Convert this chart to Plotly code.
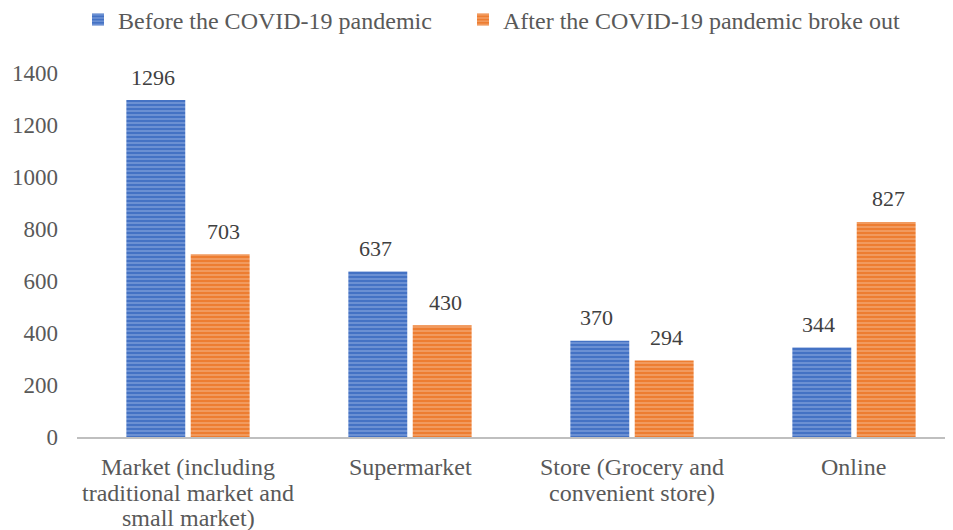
import plotly.graph_objects as go

categories = ["Market (including<br>traditional market and<br>small market)", "Supermarket",
              "Store (Grocery and<br>convenient store)", "Online"]
before_vals = [1296, 637, 370, 344]
after_vals = [703, 430, 294, 827]
series_names = ["Before the COVID-19 pandemic", "After the COVID-19 pandemic broke out"]
y_ticks = [0, 200, 400, 600, 800, 1000, 1200, 1400]

FONT = "Liberation Serif, Times New Roman, serif"
BLUE = "#4472C4"
ORANGE = "#ED7D31"

# page body has an 8px default margin; size the figure to fill the rest of the window
W, H = 945, 522

fig = go.Figure()
fig.add_trace(go.Bar(
    x=categories, y=before_vals, name=series_names[0], legend="legend",
    marker=dict(color=BLUE, line=dict(width=0),
                pattern=dict(shape="-", bgcolor=BLUE, fgcolor="#B4C8EE", size=4, solidity=0.35,
                             fillmode="overlay")),
))
fig.add_trace(go.Bar(
    x=categories, y=after_vals, name=series_names[1], legend="legend2",
    marker=dict(color=ORANGE, line=dict(width=0),
                pattern=dict(shape="-", bgcolor=ORANGE, fgcolor="#FAD0B2", size=4, solidity=0.35,
                             fillmode="overlay")),
))

annotations = []
for cat, v in zip(categories, before_vals):
    annotations.append(dict(x=cat, y=v, xref="x", yref="y", text=str(v), showarrow=False,
                            xshift=-35, yshift=23, font=dict(family=FONT, size=22, color="#404040")))
for cat, v in zip(categories, after_vals):
    annotations.append(dict(x=cat, y=v, xref="x", yref="y", text=str(v), showarrow=False,
                            xshift=35, yshift=23, font=dict(family=FONT, size=22, color="#404040")))
# category labels, one annotation per line for tight line spacing
for cat in categories:
    for k, line in enumerate(cat.split("<br>")):
        annotations.append(dict(x=cat, y=0, xref="x", yref="y", text=line, showarrow=False,
                                xanchor="center", yanchor="middle",
                                yshift=-30 - 25.5 * k,
                                font=dict(family=FONT, size=24, color="#595959")))

legend_common = dict(orientation="h", xref="container", yref="container",
                     xanchor="left", y=1 - 12 / H, yanchor="middle",
                     font=dict(family=FONT, size=24, color="#595959"),
                     bgcolor="rgba(0,0,0,0)")

fig.update_layout(
    width=W, height=H,
    margin=dict(l=69, r=0, t=65, b=93, autoexpand=False),
    paper_bgcolor="white", plot_bgcolor="white",
    barmode="group", bargap=0.42, bargroupgap=0.085,
    font=dict(family=FONT, size=22, color="#595959"),
    showlegend=True,
    legend=dict(x=70 / W, **legend_common),
    legend2=dict(x=455 / W, **legend_common),
    annotations=annotations,
    xaxis=dict(range=[-0.5, 3.446], showgrid=False, showline=True, linecolor="#BFBFBF", linewidth=2,
               ticks="", showticklabels=False, zeroline=False, automargin=False),
    yaxis=dict(range=[0, 1400], tickvals=y_ticks, showgrid=False, showline=False, zeroline=False,
               ticks="", ticklabelstandoff=18, automargin=False,
               tickfont=dict(family=FONT, size=23, color="#595959")),
)

fig.write_html("out.html")
